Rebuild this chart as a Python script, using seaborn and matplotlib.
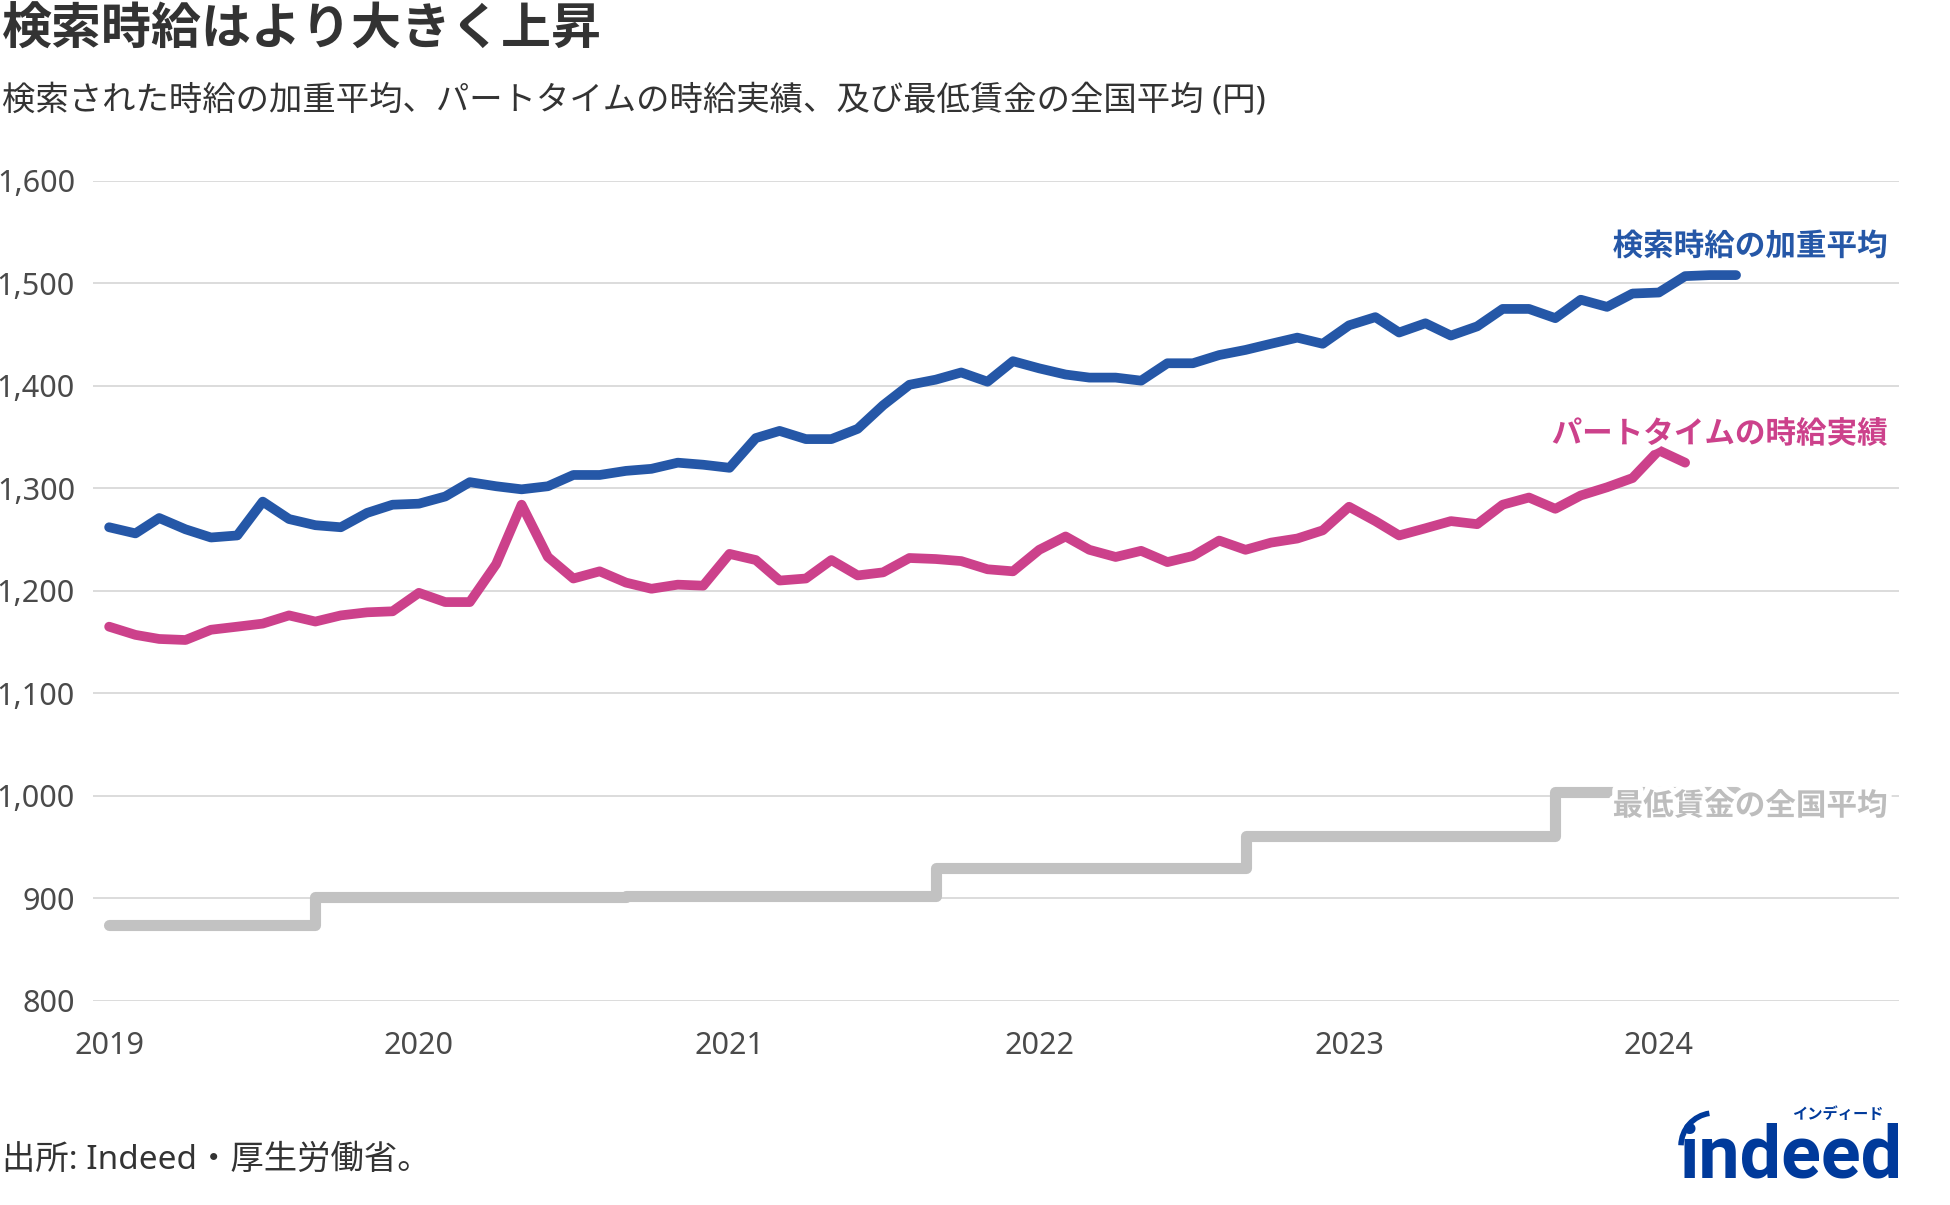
import pandas as pd
import numpy as np
import matplotlib.pyplot as plt
import matplotlib.dates as mdates
import matplotlib.ticker as mticker
import matplotlib.transforms as mtransforms
import matplotlib.patheffects as pe
from matplotlib.patches import Arc
import seaborn as sns

# データ（2019年1月〜、月次）
months = pd.date_range('2019-01-01', periods=64, freq='MS')

search_wage = [1262, 1256, 1271, 1260, 1252, 1254, 1287, 1270, 1264, 1262, 1276, 1284,
               1285, 1292, 1306, 1302, 1299, 1302, 1313, 1313, 1317, 1319, 1325, 1323,
               1320, 1349, 1356, 1348, 1348, 1358, 1381, 1401, 1406, 1413, 1404, 1424,
               1417, 1411, 1408, 1408, 1405, 1422, 1422, 1430, 1435, 1441, 1447, 1441,
               1459, 1467, 1452, 1461, 1449, 1458, 1475, 1475, 1466, 1484, 1477, 1490,
               1491, 1507, 1508, 1508]

part_time_wage = [1165, 1157, 1153, 1152, 1162, 1165, 1168, 1176, 1170, 1176, 1179, 1180,
                  1198, 1189, 1189, 1226, 1284, 1233, 1212, 1219, 1208, 1202, 1206, 1205,
                  1236, 1230, 1210, 1212, 1230, 1215, 1218, 1232, 1231, 1229, 1221, 1219,
                  1240, 1253, 1240, 1233, 1239, 1228, 1234, 1249, 1240, 1247, 1251, 1259,
                  1282, 1268, 1254, 1261, 1268, 1265, 1284, 1291, 1280, 1293, 1301, 1310,
                  1337, 1325]

min_wage = [874] * 9 + [901] * 12 + [902] * 12 + [930] * 12 + [961] * 12 + [1004] * 7

labels = ['検索時給の加重平均', 'パートタイムの時給実績', '最低賃金の全国平均']
colors = ['#2557a7', '#cc418b', '#c2c2c2']
year_ticks = pd.date_range('2019-01-01', '2024-01-01', freq='YS')
y_ticks = list(range(800, 1700, 100))

df_search = pd.DataFrame({'date': months, 'value': search_wage})
df_part = pd.DataFrame({'date': months[:len(part_time_wage)], 'value': part_time_wage})
df_min = pd.DataFrame({'date': months, 'value': min_wage})

sns.set_theme(style='white')
plt.rcParams['font.family'] = ['Noto Sans', 'Noto Sans CJK JP', 'DejaVu Sans']

fig = plt.figure(figsize=(19.5, 12.05), dpi=100)
ax = fig.add_axes([93 / 1950, 1 - 1000.8 / 1205, (1899 - 93) / 1950, (1000.8 - 180.8) / 1205])

sns.lineplot(data=df_min, x='date', y='value', ax=ax, color=colors[2], linewidth=8,
             drawstyle='steps-pre', zorder=2)
sns.lineplot(data=df_part, x='date', y='value', ax=ax, color=colors[1], linewidth=7,
             zorder=3)
sns.lineplot(data=df_search, x='date', y='value', ax=ax, color=colors[0], linewidth=7,
             zorder=4)

ax.set_ylim(800, 1600)
ax.set_xlim(pd.Timestamp('2018-12-13'), pd.Timestamp('2024-10-10'))
ax.set_yticks(y_ticks)
ax.yaxis.set_major_formatter(mticker.StrMethodFormatter('{x:,.0f}'))
ax.set_xticks(year_ticks)
ax.xaxis.set_major_formatter(mdates.DateFormatter('%Y'))
ax.grid(axis='y', color='#d9d9d9', linewidth=1.3)
ax.grid(axis='x', visible=False)
for s in ax.spines.values():
    s.set_visible(False)
ax.tick_params(axis='y', length=0, pad=13, labelsize=22, labelcolor='#4a4a4a')
ax.tick_params(axis='x', length=0, pad=22, labelsize=22, labelcolor='#4a4a4a')
ax.set_xlabel('')
ax.set_ylabel('')

# 系列ラベル
trans = mtransforms.blended_transform_factory(ax.transAxes, ax.transData)
halo = [pe.withStroke(linewidth=8, foreground='white')]
ax.text(0.9934, 1535, labels[0], transform=trans, ha='right', va='center',
        fontsize=22, fontweight='bold', color=colors[0], path_effects=halo, zorder=6)
ax.text(0.9934, 1352, labels[1], transform=trans, ha='right', va='center',
        fontsize=22, fontweight='bold', color=colors[1], path_effects=halo, zorder=6)
ax.text(0.9934, 989, labels[2], transform=trans, ha='right', va='center',
        fontsize=22, fontweight='bold', color='#bdbdbd', path_effects=halo, zorder=6)

# タイトル・注記
fig.text(0.001, 1 - 31.5 / 1205, '検索時給はより大きく上昇', ha='left', va='center',
         fontsize=36, fontweight='bold', color='#333333')
fig.text(0.001, 1 - 101 / 1205, '検索された時給の加重平均、パートタイムの時給実績、及び最低賃金の全国平均 (円)',
         ha='left', va='center', fontsize=24, color='#333333')
fig.text(0.001, 1 - 1160 / 1205, '出所: Indeed・厚生労働省。', ha='left', va='center',
         fontsize=24, color='#333333')

# ロゴ
fig.text(1902 / 1950, 1 - 1158 / 1205, 'indeed', ha='right', va='center',
         fontsize=53, fontweight='bold', family=['Roboto', 'DejaVu Sans'],
         color='#003a9b')
fig.text(1884 / 1950, 1 - 1116 / 1205, 'インディード', ha='right', va='center',
         fontsize=11, fontweight='bold', color='#003a9b')
fig.patches.append(Arc((1714 / 1950, 1 - 1146 / 1205), 66 / 1950, 66 / 1205,
                       theta1=95, theta2=178, transform=fig.transFigure,
                       color='#003a9b', linewidth=4))

plt.savefig('out.png', dpi=100)
